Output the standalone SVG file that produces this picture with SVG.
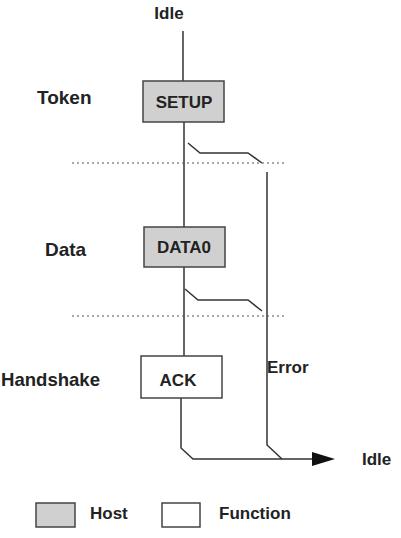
<svg xmlns="http://www.w3.org/2000/svg" width="401" height="538" viewBox="0 0 401 538">
<style>
text{font-family:"Liberation Sans",Arial,sans-serif;font-weight:bold;fill:#222}
.lbl{font-size:19px}
.t{font-size:17px}
.host{fill:#d0d0d0;stroke:#444;stroke-width:1.5}
.fn{fill:#fff;stroke:#444;stroke-width:1.5}
.ln{fill:none;stroke:#333;stroke-width:1.5}
.dot{fill:none;stroke:#555;stroke-width:1.2;stroke-dasharray:2,3}
</style>
<rect width="401" height="538" fill="#fff"/>
<text class="t" x="169" y="19" text-anchor="middle">Idle</text>
<text class="lbl" x="37" y="104">Token</text>
<text class="lbl" x="45" y="256">Data</text>
<text class="lbl" x="1" y="386" textLength="99" lengthAdjust="spacingAndGlyphs">Handshake</text>
<g id="connectors">
<path class="ln" d="M183,31V81M184,122V227M184,267V356M181,398V448L193,459H314"/>
<path class="ln" d="M188,143L200,153H248L262,163"/>
<path class="ln" d="M185,289L198,300H248L262,311"/>
<path class="ln" d="M267,172V445L282,459"/>
<polygon points="312,452 335,459 312,466" fill="#111"/>
<path class="dot" d="M72,163H285M72,316H285"/>
</g>
<g id="setup"><rect class="host" x="143" y="81" width="81" height="41"/><text class="t" x="184" y="108" text-anchor="middle">SETUP</text></g>
<g id="data0"><rect class="host" x="144" y="227" width="81" height="40"/><text class="t" x="184" y="253" text-anchor="middle">DATA0</text></g>
<g id="ack"><rect class="fn" x="141" y="356" width="81" height="42"/><text class="t" x="178" y="386" text-anchor="middle">ACK</text></g>
<text class="t" x="267" y="373">Error</text>
<text class="t" x="362" y="465">Idle</text>
<g id="legend-host"><rect class="host" x="36" y="503" width="39" height="24"/><text class="t" x="90" y="519">Host</text></g>
<g id="legend-function"><rect class="fn" x="162" y="503" width="38" height="24"/><text class="t" x="219" y="519">Function</text></g>
</svg>
